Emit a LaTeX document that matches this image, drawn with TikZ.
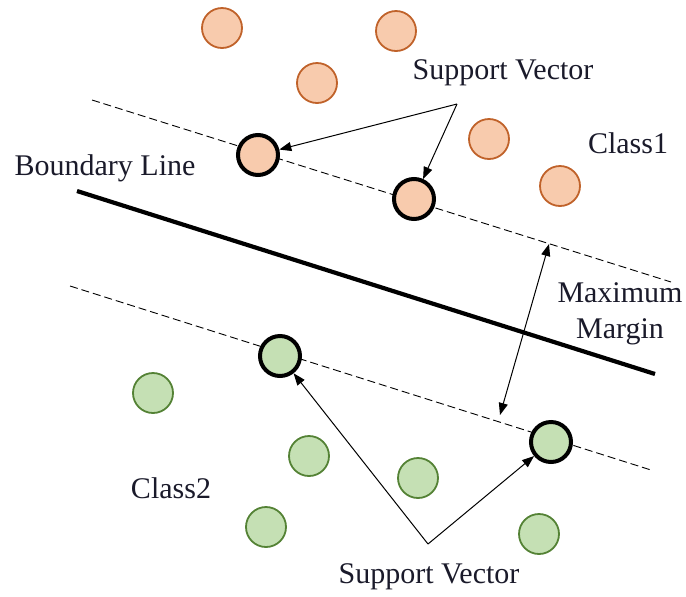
\documentclass[tikz,border=0pt]{standalone}
\usepackage{fontspec}
\setmainfont{Liberation Serif}
\usetikzlibrary{arrows.meta}
\definecolor{peach}{HTML}{F8CBAD}
\definecolor{peachline}{HTML}{C0622A}
\definecolor{leaf}{HTML}{C5E0B4}
\definecolor{leafline}{HTML}{548235}
\definecolor{ink}{HTML}{1A1A2A}
\begin{document}
\begin{tikzpicture}[x=0.5pt,y=-0.5pt,
  pt1/.style={circle,minimum size=20pt,inner sep=0pt,fill=peach,draw=peachline,line width=0.9pt},
  pt2/.style={circle,minimum size=20pt,inner sep=0pt,fill=leaf,draw=leafline,line width=0.9pt},
  sv1/.style={pt1,draw=black,line width=2pt},
  sv2/.style={pt2,draw=black,line width=2pt},
  lbl/.style={font=\fontsize{15}{17}\selectfont,text=ink,inner sep=0pt},
  margin/.style={dashed,dash pattern=on 4pt off 2pt,line width=0.45pt},
  pointer/.style={line width=0.5pt,-{Triangle[length=6pt,width=4.5pt]}}]
\useasboundingbox (0,0) rectangle (686,596);

% margin lines and separating boundary
\coordinate (u1) at (92,100);
\coordinate (u2) at (671,282);
\coordinate (l1) at (70,286);
\coordinate (l2) at (651,470);
\draw[margin] (u1) -- (u2);
\draw[margin] (l1) -- (l2);
\coordinate (b1) at (77,191);
\coordinate (b2) at (655,374);
\draw[line width=2.1pt] (b1) -- (b2);

% class 1 samples
\node[pt1] (a1) at (222,28) {};
\node[pt1] (a2) at (317,83) {};
\node[pt1] (a3) at (396,31) {};
\node[pt1] (a4) at (489,139) {};
\node[pt1] (a5) at (560,186) {};
\node[sv1] (s1) at (258,155) {};
\node[sv1] (s2) at (414,199) {};

% class 2 samples
\node[pt2] (c1) at (153,393) {};
\node[pt2] (c2) at (309,456) {};
\node[pt2] (c3) at (266,527) {};
\node[pt2] (c4) at (418,478) {};
\node[pt2] (c5) at (539,534) {};
\node[sv2] (t1) at (280,356) {};
\node[sv2] (t2) at (551,442) {};

% labels
\node[lbl] (svtop) at (503,73) {Support Vector};
\node[lbl] (svbot) at (429,577) {Support Vector};
\node[lbl] (bl) at (105,168) {Boundary Line};
\node[lbl] (k1) at (628,143) {Class1};
\node[lbl] (k2) at (171,488) {Class2};
\node[lbl,align=center] (mm) at (620,314) {Maximum\\[1pt]Margin};

% pointers to the support vectors
\coordinate (j1) at (457,104);
\coordinate (j2) at (428,544);
\draw[pointer] (j1) -- (s1);
\draw[pointer] (j1) -- (s2);
\draw[pointer] (j2) -- (t1);
\draw[pointer] (j2) -- (t2);

% margin width
\coordinate (m1) at (549,244);
\coordinate (m2) at (500,415);
\draw[line width=0.5pt,{Triangle[length=6pt,width=4.5pt]}-{Triangle[length=6pt,width=4.5pt]}] (m1) -- (m2);
\end{tikzpicture}
\end{document}
